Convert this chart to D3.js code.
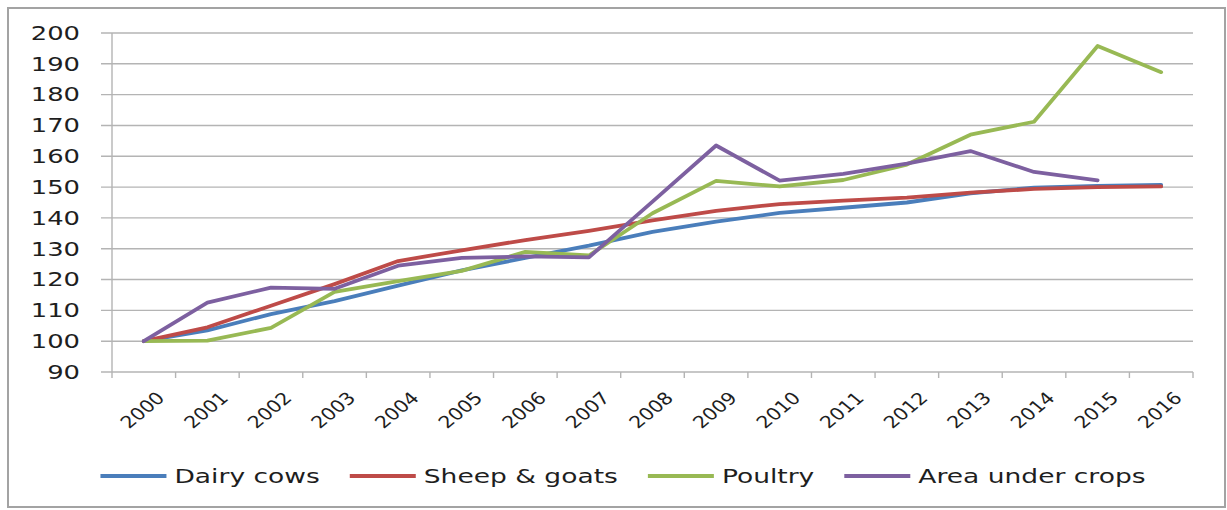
<!DOCTYPE html>
<html>
<head>
<meta charset="utf-8">
<script src="https://cdn.jsdelivr.net/npm/d3@7"></script>
<style>
  html, body { margin: 0; padding: 0; background: #fff; }
  svg { display: block; }
  text { font-family: "DejaVu Sans", Verdana, sans-serif; fill: #1e1e1e; }
</style>
</head>
<body>
<svg id="chart" width="1227" height="510"></svg>
<script>
// Index values (2000 = 100)
const years = ["2000","2001","2002","2003","2004","2005","2006","2007","2008",
               "2009","2010","2011","2012","2013","2014","2015","2016"];
const dairyCows   = [100, 103.5, 108.8, 113, 118, 123, 127, 131, 135.5, 138.8, 141.6, 143.3, 145, 148, 149.8, 150.4, 150.7];
const sheepGoats  = [100, 104.5, 111.5, 118.5, 126, 129.5, 132.8, 135.8, 139.2, 142.3, 144.5, 145.6, 146.6, 148.2, 149.4, 150, 150.2];
const poultry     = [100, 100.2, 104.3, 116, 119.5, 122.8, 129, 127.8, 141.5, 152, 150.2, 152.3, 157.3, 167, 171.2, 195.8, 187.3];
const areaCrops   = [100, 112.5, 117.4, 117, 124.5, 127, 127.5, 127.2, 145.3, 163.5, 152.1, 154.3, 157.6, 161.7, 154.9, 152.2, null];
const seriesNames = ["Dairy cows", "Sheep & goats", "Poultry", "Area under crops"];
const seriesColors = ["#4a7ebb", "#be4b48", "#98b954", "#7d60a0"];
const yTicks = [90, 100, 110, 120, 130, 140, 150, 160, 170, 180, 190, 200];

const series = [dairyCows, sheepGoats, poultry, areaCrops];

const svg = d3.select("#chart");
const SX = 1.36;             // horizontal stretch of the lettering
const SXL = 1.2;             // stretch of the rotated year labels
const plot = { left: 112, right: 1193, top: 33, bottom: 372 };

// outer frame
svg.append("rect")
  .attr("x", 8).attr("y", 8).attr("width", 1217).attr("height", 499)
  .attr("fill", "#fff").attr("stroke", "#a3a3a3").attr("stroke-width", 2);

const x = d3.scaleBand().domain(years).range([plot.left, plot.right]).padding(0);
const y = d3.scaleLinear().domain([90, 200]).range([plot.bottom, plot.top]);

// horizontal gridlines with left tick marks
svg.append("g").selectAll("line").data(yTicks).join("line")
  .attr("x1", plot.left - 11).attr("x2", plot.right)
  .attr("y1", d => y(d)).attr("y2", d => y(d))
  .attr("stroke", "#b4b4b4").attr("stroke-width", 1.4);

// vertical axis line
svg.append("line")
  .attr("x1", plot.left).attr("x2", plot.left)
  .attr("y1", y(200)).attr("y2", y(90))
  .attr("stroke", "#b4b4b4").attr("stroke-width", 1.4);

// category tick marks below the horizontal axis
const boundaries = years.map(d => x(d)).concat([plot.right]);
svg.append("g").selectAll("line").data(boundaries).join("line")
  .attr("x1", d => d).attr("x2", d => d)
  .attr("y1", plot.bottom).attr("y2", plot.bottom + 6)
  .attr("stroke", "#b4b4b4").attr("stroke-width", 1.4);

// y labels
svg.append("g").selectAll("text").data(yTicks).join("text")
  .attr("transform", d => `translate(80,${y(d)}) scale(${SX},1)`)
  .attr("text-anchor", "end").attr("dy", "0.36em")
  .style("font-size", "19px")
  .text(d => d);

// x labels, rotated
const cx = d => x(d) + x.bandwidth() / 2;
svg.append("g").selectAll("text").data(years).join("text")
  .attr("transform", d => `translate(${cx(d) + 22},${plot.bottom + 27}) scale(${SXL},1) rotate(-45)`)
  .attr("text-anchor", "end")
  .style("font-size", "17px")
  .text(d => d);

// series lines
const line = d3.line()
  .defined(d => d.v != null)
  .x(d => cx(d.year))
  .y(d => y(d.v));

series.forEach((vals, i) => {
  const pts = years.map((yr, j) => ({ year: yr, v: vals[j] }));
  svg.append("path")
    .datum(pts)
    .attr("d", line)
    .attr("fill", "none")
    .attr("stroke", seriesColors[i])
    .attr("stroke-width", 3.8)
    .attr("stroke-linejoin", "round")
    .attr("stroke-linecap", "round");
});

// legend, laid out left to right and centred
const legend = svg.append("g");
const lineLen = 66, gapText = 8, gapItem = 30, legY = 476;
let pos = 0;
seriesNames.forEach((name, i) => {
  const g = legend.append("g");
  g.append("line")
    .attr("x1", pos).attr("x2", pos + lineLen)
    .attr("y1", legY).attr("y2", legY)
    .attr("stroke", seriesColors[i]).attr("stroke-width", 3.8);
  const t = g.append("text")
    .attr("transform", `translate(${pos + lineLen + gapText},${legY}) scale(${SX},1)`)
    .attr("dy", "0.36em")
    .style("font-size", "19.5px")
    .text(name);
  const w = t.node().getComputedTextLength() * SX;
  pos += lineLen + gapText + w + gapItem;
});
const totalW = pos - gapItem;
legend.attr("transform", `translate(${623 - totalW / 2},0)`);
</script>
</body>
</html>
